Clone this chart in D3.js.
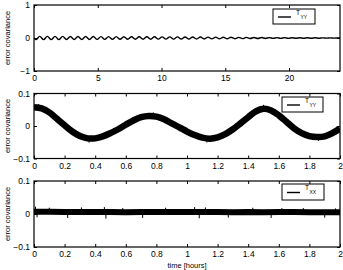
<!DOCTYPE html>
<html>
<head>
<meta charset="utf-8">
<script src="https://cdn.jsdelivr.net/npm/d3@7"></script>
<style>
  body { margin: 0; background: #fff; }
  svg text { font-family: "Liberation Sans", Arial, sans-serif; fill: #000; }
</style>
</head>
<body>
<svg id="chart" width="343" height="270"></svg>
<script>
// panel 1: T_YY over 24 h, wave extremes every half period (0.3 h)
const wave1HalfPeriod = 0.3;
const wave1Extremes = [
  -0.05, 0.05, -0.05, 0.05, -0.05, 0.05, -0.048, 0.048, -0.047, 0.047,
  -0.046, 0.046, -0.045, 0.045, -0.044, 0.044, -0.043, 0.043, -0.042, 0.042,
  -0.041, 0.041, -0.04, 0.04, -0.039, 0.039, -0.038, 0.038, -0.037, 0.037,
  -0.036, 0.036, -0.035, 0.035, -0.034, 0.034, -0.033, 0.033, -0.032, 0.032,
  -0.031, 0.031, -0.03, 0.03, -0.029, 0.028, -0.027, 0.026, -0.025, 0.024,
  -0.023, 0.022, -0.021, 0.02, -0.019, 0.018, -0.017, 0.016, -0.015, 0.014,
  -0.013, 0.012, -0.012, 0.011, -0.011, 0.01, -0.01, 0.009, -0.009, 0.008,
  -0.008, 0.007, -0.007, 0.006, -0.006, 0.005, -0.005, 0.004, -0.004, 0.004
];
const xTicks1 = [0, 5, 10, 15, 20];
const yTicks1 = [-1, 0, 1];

// panel 2: T_YY over 2 h, sampled every 0.05 h
const t2Step = 0.05;
const yy2 = [
  0.058, 0.054, 0.042, 0.022, 0.002, -0.017, -0.031, -0.038, -0.038, -0.032,
  -0.022, -0.01, 0.004, 0.017, 0.027, 0.031, 0.029, 0.021, 0.008, -0.004,
  -0.017, -0.028, -0.036, -0.039, -0.035, -0.025, -0.01, 0.008, 0.027, 0.045,
  0.053, 0.048, 0.033, 0.013, -0.007, -0.022, -0.031, -0.034, -0.032, -0.022,
  -0.008
];
// spikes sticking out of the noisy band: [time, offset]
const yy2Spikes = [
  [0.03, 0.012], [0.27, -0.012], [0.36, -0.013], [0.52, 0.011], [0.78, 0.012],
  [0.95, -0.012], [1.13, -0.013], [1.32, 0.011], [1.5, 0.012], [1.71, -0.011],
  [1.86, -0.012], [1.98, 0.012]
];

// panel 3: T_XX over 2 h, sampled every 0.1 h
const t3Step = 0.1;
const xx3 = [
  0.007, 0.007, 0.006, 0.006, 0.006, 0.006, 0.005, 0.006, 0.006, 0.006,
  0.006, 0.006, 0.006, 0.005, 0.006, 0.005, 0.006, 0.006, 0.005, 0.005,
  0.005
];
const xx3Spikes = [
  [0.01, 0.022], [0.02, -0.01], [0.1, 0.019], [0.22, -0.012], [0.31, 0.02],
  [0.46, 0.021], [0.47, -0.014], [0.58, 0.018], [0.71, -0.012], [0.86, 0.019],
  [1.05, 0.021], [1.08, -0.013], [1.12, 0.02], [1.27, -0.011], [1.43, 0.019],
  [1.55, -0.012], [1.62, 0.018], [1.76, 0.018], [1.9, -0.011], [1.97, 0.017]
];

const xTicks23 = [0, 0.2, 0.4, 0.6, 0.8, 1, 1.2, 1.4, 1.6, 1.8, 2];
const yTicks23 = [-0.1, 0, 0.1];

const svg = d3.select('#chart');
const left = 34, right = 340;

function panel(top, bottom, xDomain, yDomain, xTicks, yTicks, fmtY) {
  const x = d3.scaleLinear().domain(xDomain).range([left, right]);
  const y = d3.scaleLinear().domain(yDomain).range([bottom, top]);
  const g = svg.append('g');
  const clip = 'clip' + Math.round(top);
  g.append('clipPath').attr('id', clip)
    .append('rect').attr('x', left).attr('y', top)
    .attr('width', right - left).attr('height', bottom - top);
  const plot = g.append('g').attr('clip-path', `url(#${clip})`);

  const tickLen = 3;
  g.append('g').attr('transform', `translate(0,${bottom})`)
    .call(d3.axisBottom(x).tickValues(xTicks).tickSizeInner(-tickLen).tickSizeOuter(0)
      .tickFormat(d3.format('~g')).tickPadding(4));
  g.append('g').attr('transform', `translate(0,${top})`)
    .call(d3.axisTop(x).tickValues(xTicks).tickSizeInner(-tickLen).tickSizeOuter(0).tickFormat(''));
  g.append('g').attr('transform', `translate(${left},0)`)
    .call(d3.axisLeft(y).tickValues(yTicks).tickSizeInner(-tickLen).tickSizeOuter(0)
      .tickFormat(fmtY).tickPadding(4));
  g.append('g').attr('transform', `translate(${right},0)`)
    .call(d3.axisRight(y).tickValues(yTicks).tickSizeInner(-tickLen).tickSizeOuter(0).tickFormat(''));
  g.selectAll('.domain').remove();
  g.selectAll('.tick line').attr('stroke', '#000');
  g.selectAll('.tick text').attr('font-size', 8.5).attr('fill', '#111')
    .style('font-family', '"Liberation Sans", Arial, sans-serif');

  g.append('rect').attr('x', left).attr('y', top)
    .attr('width', right - left).attr('height', bottom - top)
    .attr('fill', 'none').attr('stroke', '#000').attr('stroke-width', 1.2);

  g.append('text')
    .attr('transform', `translate(10,${(top + bottom) / 2}) rotate(-90)`)
    .attr('text-anchor', 'middle')
    .attr('font-size', 7.5)
    .attr('fill', '#333')
    .text('error covariance');

  return { x, y, plot, g };
}

function legend(g, bx, by, w, h, sub) {
  g.append('rect').attr('x', bx).attr('y', by).attr('width', w).attr('height', h)
    .attr('fill', '#fff').attr('stroke', '#000').attr('stroke-width', 1);
  g.append('line').attr('x1', bx + 5).attr('x2', bx + 18)
    .attr('y1', by + h / 2 + 0.5).attr('y2', by + h / 2 + 0.5)
    .attr('stroke', '#000').attr('stroke-width', 1.4);
  const t = g.append('text').attr('x', bx + 23).attr('y', by + 6).attr('font-size', 6.5);
  t.append('tspan').text('T');
  t.append('tspan').attr('font-size', 5).attr('dy', 4).attr('dx', 0.5).text(sub);
}

// ---- panel 1
const p1 = panel(5, 71, [0, 24], [-1, 1], xTicks1, yTicks1, d3.format('d'));
const pts1 = [[0, 0]].concat(wave1Extremes.map((v, i) => [wave1HalfPeriod * (i + 0.5), v]), [[24, 0]]);
p1.plot.append('path')
  .datum(pts1)
  .attr('fill', 'none').attr('stroke', '#000').attr('stroke-width', 1.4)
  .attr('d', d3.line().x(d => p1.x(d[0])).y(d => p1.y(d[1])).curve(d3.curveMonotoneX));
legend(p1.g, 273, 9, 42, 15, 'YY');

// ---- panel 2
const p2 = panel(93.5, 158.5, [0, 2], [-0.1, 0.1], xTicks23, yTicks23, d3.format('~g'));
const pts2 = yy2.map((v, i) => [i * t2Step, v]);
const line2 = d3.line().x(d => p2.x(d[0])).y(d => p2.y(d[1])).curve(d3.curveCatmullRom);
p2.plot.append('path').datum(pts2)
  .attr('fill', 'none').attr('stroke', '#000').attr('stroke-width', 6.5)
  .attr('d', line2);
const interp2 = t => {
  const i = Math.min(Math.floor(t / t2Step), yy2.length - 2);
  const f = t / t2Step - i;
  return yy2[i] * (1 - f) + yy2[i + 1] * f;
};
p2.plot.selectAll('line.spike').data(yy2Spikes).enter().append('line')
  .attr('x1', d => p2.x(d[0])).attr('x2', d => p2.x(d[0]))
  .attr('y1', d => p2.y(interp2(d[0]))).attr('y2', d => p2.y(interp2(d[0]) + d[1]))
  .attr('stroke', '#000').attr('stroke-width', 1);
legend(p2.g, 282, 97, 41, 15, 'YY');

// ---- panel 3
const p3 = panel(181, 247, [0, 2], [-0.1, 0.1], xTicks23, yTicks23, d3.format('~g'));
const pts3 = xx3.map((v, i) => [i * t3Step, v]);
p3.plot.append('path').datum(pts3)
  .attr('fill', 'none').attr('stroke', '#000').attr('stroke-width', 6)
  .attr('d', d3.line().x(d => p3.x(d[0])).y(d => p3.y(d[1])));
p3.plot.selectAll('line.spike').data(xx3Spikes).enter().append('line')
  .attr('x1', d => p3.x(d[0])).attr('x2', d => p3.x(d[0]))
  .attr('y1', p3.y(0.006)).attr('y2', d => p3.y(d[1]))
  .attr('stroke', '#000').attr('stroke-width', 1);
legend(p3.g, 282, 184, 42, 16, 'XX');

svg.append('text').attr('x', (left + right) / 2).attr('y', 268)
  .attr('text-anchor', 'middle').attr('font-size', 7.5).text('time [hours]');
</script>
</body>
</html>
